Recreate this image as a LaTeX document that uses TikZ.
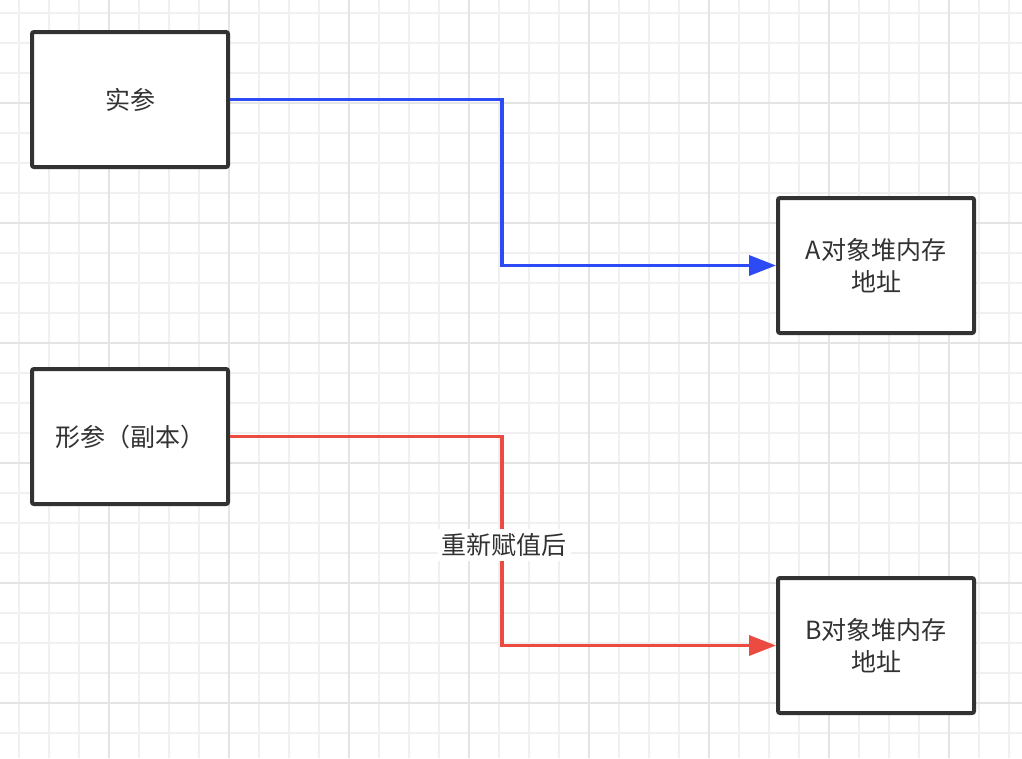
\documentclass[tikz,border=0pt]{standalone}
\usepackage{fontspec}
\setmainfont{Noto Sans CJK SC}
\usepackage{xcolor}
\usepackage{tikz}
\usetikzlibrary{arrows.meta}
\definecolor{boxline}{RGB}{50,50,50}
\definecolor{refblue}{RGB}{45,75,245}
\definecolor{refred}{RGB}{235,75,65}
\definecolor{gridminor}{RGB}{240,240,240}
\definecolor{gridmajor}{RGB}{228,228,228}
\tikzset{
  varbox/.style={
    draw=boxline,
    line width=4pt,
    rounded corners=2pt,
    align=center,
    minimum width=196pt,
    minimum height=135pt,
    fill=white,
    text=boxline,
    font=\fontsize{25}{32}\selectfont
  },
  refline/.style={
    line width=3.5pt,
    -{Triangle[length=27pt,width=20pt]}
  },
  steplabel/.style={
    fill=white,
    inner sep=4pt,
    text=boxline,
    font=\fontsize{25}{32}\selectfont
  }
}

\begin{document}
\begin{tikzpicture}[x=1pt,y=-1pt]
  \useasboundingbox (0,0) rectangle (1022,758);
  \fill[white] (0,0) rectangle (1022,758);
  % background grid
  \foreach \gx in {19,49,...,1009}
    \draw[gridminor, line width=2pt] (\gx,0) -- (\gx,758);
  \foreach \gy in {13,43,...,733}
    \draw[gridminor, line width=2pt] (0,\gy) -- (1022,\gy);
  \foreach \gx in {109,229,...,949}
    \draw[gridmajor, line width=2pt] (\gx,0) -- (\gx,758);
  \foreach \gy in {103,223,...,703}
    \draw[gridmajor, line width=2pt] (0,\gy) -- (1022,\gy);

  \node[varbox] (shican) at (130,99.5) {实参};
  \node[varbox] (xingcan) at (130,436.5) {形参（副本）};
  \node[varbox] (addrA) at (876,265.5) {A对象堆内存\\地址};
  \node[varbox] (addrB) at (876,645.5) {B对象堆内存\\地址};

  \coordinate (bendA) at (502,99.5);
  \coordinate (bendB) at (502,436.5);

  \draw[refline, refblue] (shican.east) -- (bendA) |- (addrA.west);
  \draw[refline, refred] (xingcan.east) -- (bendB) |- (addrB.west);

  \node[steplabel] (reassign) at (504,545) {重新赋值后};
\end{tikzpicture}
\end{document}
